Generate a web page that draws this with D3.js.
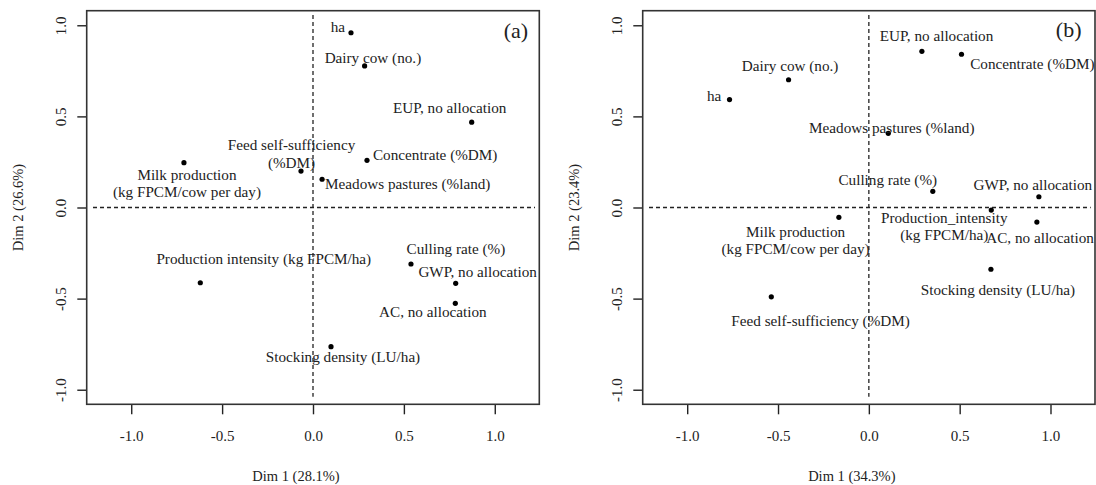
<!DOCTYPE html>
<html>
<head>
<meta charset="utf-8">
<script src="https://cdn.jsdelivr.net/npm/d3@7"></script>
<style>
  body { margin: 0; background: #fff; }
  svg { display: block; font-family: "Liberation Serif", "DejaVu Serif", serif; }
</style>
</head>
<body>
<svg></svg>
<script>
// variables (panel a)
let labelsA = ['Milk production\n(kg FPCM/cow per day)', 'Feed self-sufficiency\n(%DM)', 'ha',
               'Dairy cow (no.)', 'EUP, no allocation', 'Concentrate (%DM)', 'Meadows pastures (%land)',
               'Production intensity (kg FPCM/ha)', 'Culling rate (%)', 'GWP, no allocation',
               'AC, no allocation', 'Stocking density (LU/ha)'];
let dim1A   = [-0.71, -0.066, 0.209, 0.284, 0.873, 0.297, 0.05, -0.62, 0.539, 0.785, 0.783, 0.099];
let dim2A   = [0.246, 0.20, 0.959, 0.777, 0.468, 0.259, 0.155, -0.413, -0.31, -0.416, -0.526, -0.764];

// variables (panel b)
let labelsB = ['ha', 'Dairy cow (no.)', 'EUP, no allocation', 'Concentrate (%DM)', 'Meadows pastures (%land)',
               'Culling rate (%)', 'GWP, no allocation', 'Production_intensity\n(kg FPCM/ha)',
               'AC, no allocation', 'Milk production\n(kg FPCM/cow per day)', 'Stocking density (LU/ha)',
               'Feed self-sufficiency (%DM)'];
let dim1B   = [-0.767, -0.442, 0.292, 0.51, 0.107, 0.352, 0.936, 0.674, 0.925, -0.165, 0.672, -0.537];
let dim2B   = [0.592, 0.701, 0.857, 0.841, 0.407, 0.089, 0.059, -0.014, -0.08, -0.054, -0.339, -0.49];

let tickValues = [-1, -0.5, 0, 0.5, 1];
let tickLabels = ['-1.0', '-0.5', '0.0', '0.5', '1.0'];
let xTitles    = ['Dim 1 (28.1%)', 'Dim 1 (34.3%)'];
let yTitles    = ['Dim 2 (26.6%)', 'Dim 2 (23.4%)'];
let tags       = ['(a)', '(b)'];

// label placement relative to each dot: [dx, dy of first line centre, anchor]
let placeA = [[3, 11.3, 'middle'], [-9.5, -27, 'middle'], [-6, -6.7, 'end'], [8.3, -8.7, 'middle'],
              [-22, -15, 'middle'], [6, -6, 'start'], [3, 3.4, 'start'], [63.5, -24.4, 'middle'],
              [45, -15.7, 'middle'], [22, -12.3, 'middle'], [-22.5, 7.4, 'middle'], [12, 9.3, 'middle']];
let placeB = [[-8.3, -4.7, 'end'], [1.5, -14.7, 'middle'], [14.7, -16.3, 'middle'], [8.7, 9, 'start'],
              [3.5, -6, 'middle'], [-45, -12.3, 'middle'], [-65.3, -13, 'start'], [-47, 6.7, 'middle'],
              [-50.6, 15, 'start'], [-43.3, 13.3, 'middle'], [7, 20, 'middle'], [49.3, 23.3, 'middle']];

let width      = 1096,
    height     = 485,
    plotTop    = 10.7,
    plotBottom = 404.3,
    ink        = '#222';

let svg = d3.select('svg')
            .attr('width', width)
            .attr('height', height);

let panels = [
  {left: 86.7,  right: 539.3, labels: labelsA, d1: dim1A, d2: dim2A, place: placeA, tagX: 516, tagY: 38},
  {left: 642.7, right: 1095,  labels: labelsB, d1: dim1B, d2: dim2B, place: placeB, tagX: 1068.7, tagY: 37}
];

panels.forEach((p, k) => {
  let xScale = d3.scaleLinear().domain([-1.245, 1.245]).range([p.left, p.right]),
      yScale = d3.scaleLinear().domain([-1.08, 1.08]).range([plotBottom, plotTop]);

  let g = svg.append('g');

  //Axes
  let xAxis = d3.axisBottom(xScale)
                .tickValues(tickValues)
                .tickFormat((d, i) => tickLabels[i])
                .tickSize(10)
                .tickSizeOuter(0);
  let gx = g.append('g')
            .attr('transform', `translate(0, ${plotBottom})`)
            .call(xAxis);
  gx.select('.domain').remove();
  gx.selectAll('line').attr('stroke', ink).attr('stroke-width', 1.4);
  gx.selectAll('text')
      .attr('y', 37)
      .attr('dy', 0)
      .attr('fill', ink)
      .attr('font-size', '15px')
      .attr('font-family', '"Liberation Serif", serif');

  let yAxis = d3.axisLeft(yScale)
                .tickValues(tickValues)
                .tickFormat((d, i) => tickLabels[i])
                .tickSize(9.4)
                .tickSizeOuter(0);
  let gy = g.append('g')
            .attr('transform', `translate(${p.left}, 0)`)
            .call(yAxis);
  gy.select('.domain').remove();
  gy.selectAll('line').attr('stroke', ink).attr('stroke-width', 1.4);
  gy.selectAll('text')
      .attr('x', 0)
      .attr('dy', 0)
      .attr('transform', 'translate(-26, 0) rotate(-90)')
      .attr('text-anchor', 'middle')
      .attr('dominant-baseline', 'central')
      .attr('fill', ink)
      .attr('font-size', '15px')
      .attr('font-family', '"Liberation Serif", serif');

  //Box
  g.append('rect')
    .attr('x', p.left)
    .attr('y', plotTop)
    .attr('width', p.right - p.left)
    .attr('height', plotBottom - plotTop)
    .attr('fill', 'none')
    .attr('stroke', '#333')
    .attr('stroke-width', 1.6);

  //Reference lines
  g.append('line')
    .attr('x1', p.left + 6.3).attr('x2', p.right - 4.3)
    .attr('y1', yScale(0)).attr('y2', yScale(0))
    .attr('stroke', ink).attr('stroke-width', 1.3)
    .attr('stroke-dasharray', '4,3');
  g.append('line')
    .attr('x1', xScale(0)).attr('x2', xScale(0))
    .attr('y1', plotTop + 4.3).attr('y2', plotBottom - 7.6)
    .attr('stroke', ink).attr('stroke-width', 1.3)
    .attr('stroke-dasharray', '4,3');

  //Points
  let pts = p.labels.map((l, i) => ({label: l, x: p.d1[i], y: p.d2[i], place: p.place[i]}));

  g.selectAll('circle')
    .data(pts)
    .enter()
    .append('circle')
      .attr('cx', d => xScale(d.x))
      .attr('cy', d => yScale(d.y))
      .attr('r', 2.6)
      .attr('fill', '#000');

  //Labels
  let lab = g.selectAll('text.lab')
    .data(pts)
    .enter()
    .append('text')
      .attr('class', 'lab')
      .attr('text-anchor', d => d.place[2])
      .attr('dominant-baseline', 'central')
      .attr('font-size', '15.2px')
      .attr('fill', ink);
  lab.each(function(d) {
    let lines = d.label.split('\n');
    let t = d3.select(this);
    lines.forEach((s, j) => {
      t.append('tspan')
        .attr('x', xScale(d.x) + d.place[0])
        .attr('y', yScale(d.y) + d.place[1] + j * 17.5)
        .text(s);
    });
  });

  //Panel tag
  g.append('text')
    .attr('x', p.tagX)
    .attr('y', p.tagY)
    .attr('text-anchor', 'middle')
    .attr('font-size', '22px')
    .attr('fill', ink)
    .text(tags[k]);

  //Titles
  g.append('text')
    .attr('x', (p.left + p.right) / 2 - 17)
    .attr('y', 481)
    .attr('text-anchor', 'middle')
    .attr('font-size', '14.5px')
    .attr('fill', ink)
    .text(xTitles[k]);

  g.append('text')
    .attr('transform', `translate(${p.left - 69}, ${(plotTop + plotBottom) / 2}) rotate(-90)`)
    .attr('text-anchor', 'middle')
    .attr('dominant-baseline', 'central')
    .attr('font-size', '14.5px')
    .attr('fill', ink)
    .text(yTitles[k]);
});
</script>
</body>
</html>
